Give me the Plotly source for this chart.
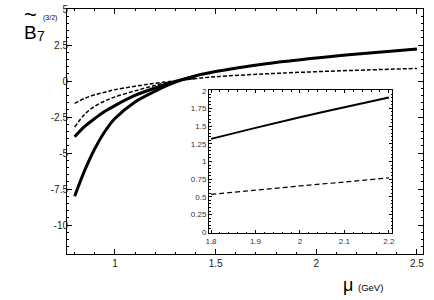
import plotly.graph_objects as go

mu = [0.8, 0.85, 0.9, 0.95, 1.0, 1.1, 1.2, 1.3, 1.4, 1.5, 1.75, 2.0, 2.25, 2.5]
thick_low = [-8.0, -6.2, -4.7, -3.5, -2.6, -1.45, -0.7, -0.08, 0.36, 0.66, 1.2, 1.6, 1.93, 2.22]
thick_up = [-3.87, -3.15, -2.6, -2.1, -1.7, -1.0, -0.48, -0.03, 0.36, None, None, None, None, None]
dash_low = [-3.2, -2.3, -1.75, -1.38, -1.1, -0.68, -0.3, 0.0, 0.17, 0.3, 0.5, 0.65, 0.77, 0.88]
dash_up = [-1.55, -1.2, -0.95, -0.77, -0.6, -0.36, -0.15, 0.02, 0.17, None, None, None, None, None]

mu_in = [1.8, 1.9, 2.0, 2.1, 2.2]
solid_in = [1.32, 1.475, 1.625, 1.765, 1.905]
dash_in = [0.535, 0.595, 0.655, 0.71, 0.77]

main_yticks = [5, 2.5, 0, -2.5, -5, -7.5, -10]
main_yticktext = ["5", "2.5", "0", "-2.5", "-5", "-7.5", "-10"]
main_xticks = [1, 1.5, 2, 2.5]
main_xticktext = ["1", "1.5", "2", "2.5"]
in_yticks = [0, 0.25, 0.5, 0.75, 1, 1.25, 1.5, 1.75, 2]
in_yticktext = ["0", "0.25", "0.5", "0.75", "1", "1.25", "1.5", "1.75", "2"]
in_xticks = [1.8, 1.9, 2.0, 2.1, 2.2]
in_xticktext = ["1.8", "1.9", "2", "2.1", "2.2"]

fig = go.Figure()
for ys, w, d in [(thick_low, 3, "solid"), (thick_up, 3, "solid"),
                 (dash_low, 1.5, "4px,2px"), (dash_up, 1.5, "4px,2px")]:
    fig.add_trace(go.Scatter(x=mu, y=ys, mode="lines", connectgaps=False,
                             line=dict(color="black", width=w, dash=d, shape="spline"),
                             xaxis="x", yaxis="y", showlegend=False))
fig.add_trace(go.Scatter(x=mu_in, y=solid_in, mode="lines",
                         line=dict(color="black", width=2, shape="spline"),
                         xaxis="x2", yaxis="y2", showlegend=False))
fig.add_trace(go.Scatter(x=mu_in, y=dash_in, mode="lines",
                         line=dict(color="black", width=1.2, dash="5px,3px", shape="spline"),
                         xaxis="x2", yaxis="y2", showlegend=False))

L, R, T, B = 67, 11, 9, 46
W, H = 434, 300
pw, ph = W - L - R, H - T - B

def px(x):
    return (x - L) / pw

def py(y):
    return (H - B - y) / ph

tickfont = dict(family="Liberation Sans, Arial, sans-serif", size=10, color="#222")
smallfont = dict(family="Liberation Sans, Arial, sans-serif", size=8, color="#333")

fig.update_layout(
    width=W, height=H, margin=dict(l=L, r=R, t=T, b=B, autoexpand=False),
    paper_bgcolor="white", plot_bgcolor="white",
    xaxis=dict(range=[0.762, 2.53], showgrid=False, zeroline=False, automargin=False,
               showline=True, linecolor="black", linewidth=1, mirror="ticks",
               ticks="inside", ticklen=5, tickcolor="black",
               tickvals=main_xticks, ticktext=main_xticktext, tickfont=tickfont,
               minor=dict(ticks="inside", ticklen=2, dtick=0.1, tickcolor="black", showgrid=False)),
    yaxis=dict(range=[-12, 5], showgrid=False, zeroline=False, automargin=False,
               showline=True, linecolor="black", linewidth=1, mirror="ticks",
               ticks="inside", ticklen=5, tickcolor="black", ticklabelstandoff=-4,
               tickvals=main_yticks, ticktext=main_yticktext, tickfont=tickfont,
               minor=dict(ticks="inside", ticklen=2, dtick=0.5, tickcolor="black", showgrid=False)),
    xaxis2=dict(domain=[px(209), px(392)], anchor="y2", range=[1.7955, 2.207], automargin=False,
                showgrid=False, zeroline=False, showline=True, linecolor="black",
                linewidth=1, mirror="ticks", ticks="inside", ticklen=3, tickcolor="black",
                tickvals=in_xticks, ticktext=in_xticktext, tickfont=smallfont,
                minor=dict(ticks="inside", ticklen=1.5, dtick=0.02, tickcolor="black", showgrid=False)),
    yaxis2=dict(domain=[py(233), py(90)], anchor="x2", range=[-0.01, 2.01], automargin=False,
                showgrid=False, zeroline=False, showline=True, linecolor="black",
                linewidth=1, mirror="ticks", ticks="inside", ticklen=3, tickcolor="black",
                tickvals=in_yticks, ticktext=in_yticktext, tickfont=smallfont,
                minor=dict(ticks="inside", ticklen=1.5, dtick=0.05, tickcolor="black", showgrid=False)),
)

fig.add_shape(type="rect", xref="paper", yref="paper", x0=px(209), x1=px(392),
              y0=py(233), y1=py(90), fillcolor="white", line=dict(width=0), layer="below")

ann = [
    ("B", 30, 32, 19),
    ("~", 30, 15, 22),
    ("7", 41, 36, 14),
    ("(3/2)", 49.5, 18, 7),
    ("μ", 348, 285, 18),
    ("(GeV)", 370, 287, 9.5),
]
for text, x, y, s in ann:
    fig.add_annotation(text=text, x=px(x), y=py(y), xref="paper", yref="paper",
                       showarrow=False, xanchor="center", yanchor="middle",
                       font=dict(family="Liberation Sans, Arial, sans-serif", size=s, color="black"))

fig.write_html("out.html", config={"displayModeBar": False},
               post_script="document.body.style.margin='0';document.body.style.overflow='hidden';")
